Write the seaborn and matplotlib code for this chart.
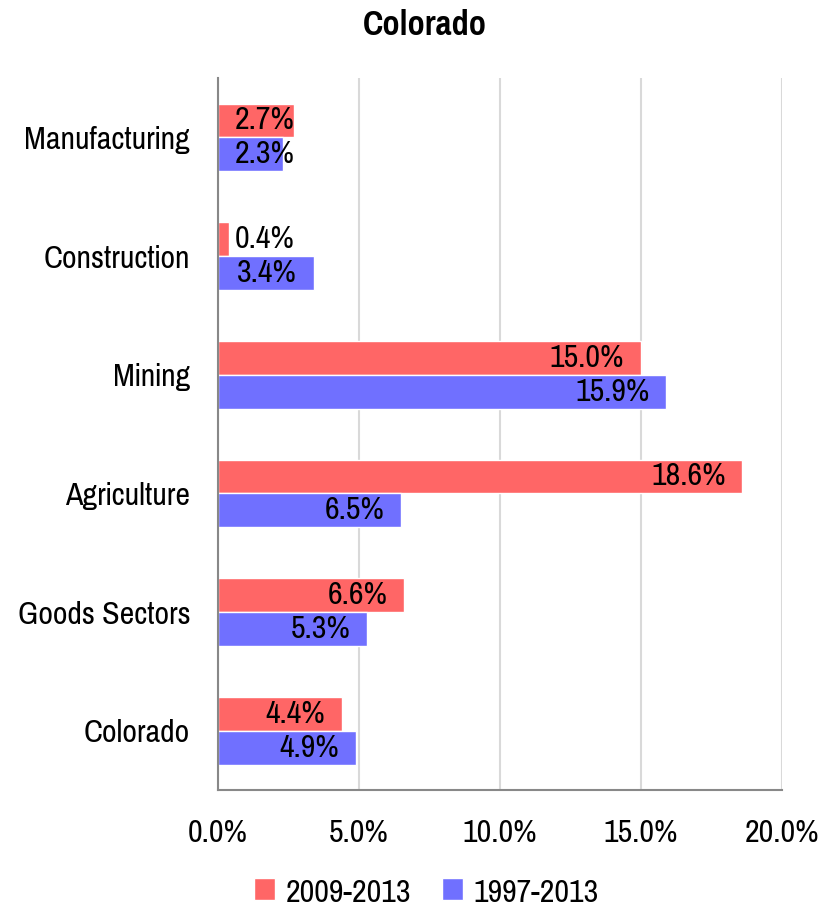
import matplotlib
matplotlib.use("Agg")
import matplotlib.pyplot as plt
import seaborn as sns
import pandas as pd
import numpy as np

sectors = ["Manufacturing", "Construction", "Mining", "Agriculture", "Goods Sectors", "Colorado"]
period_recent = [2.7, 0.4, 15.0, 18.6, 6.6, 4.4]
period_long = [2.3, 3.4, 15.9, 6.5, 5.3, 4.9]
series_names = ["2009-2013", "1997-2013"]
x_ticks = [0, 5, 10, 15, 20]

df = pd.DataFrame({
    "sector": sectors * 2,
    "value": period_recent + period_long,
    "period": [series_names[0]] * len(sectors) + [series_names[1]] * len(sectors),
})

sns.set_style("white")
plt.rcParams["font.family"] = ["Pragati Narrow", "Roboto Condensed", "DejaVu Sans"]
plt.rcParams["text.color"] = "black"
plt.rcParams["xtick.color"] = "black"
plt.rcParams["ytick.color"] = "black"
fs = 25

fig = plt.figure(figsize=(8.34, 9.06), dpi=100)
ax = fig.add_axes([0.2614, 0.128, 0.6762, 0.7859])

sns.barplot(data=df, y="sector", x="value", hue="period", order=sectors,
            hue_order=series_names, palette=["#FF6666", "#7070FF"],
            orient="h", width=0.57, ax=ax, saturation=1, legend=True)

ax.set_xlim(0, 20)
ax.set_ylim(len(sectors) - 0.5, -0.5)
ax.set_xticks(x_ticks)
ax.set_xticklabels([f"{t:.1f}%" for t in x_ticks], fontsize=fs)
ax.set_yticks(np.arange(-0.5, len(sectors), 1.0))
ax.set_yticklabels([])
ax.set_yticks(np.arange(len(sectors)), minor=True)
ax.set_yticklabels(sectors, minor=True, fontsize=fs)
ax.tick_params(axis="y", which="minor", length=0, pad=20)
ax.tick_params(axis="y", which="major", length=9, color="#888888", width=1.5)
ax.tick_params(axis="x", length=9, color="#888888", width=1.5, pad=12)
ax.set_xlabel("")
ax.set_ylabel("")
ax.grid(axis="x", color="#d9d9d9", linewidth=1.5)
ax.set_axisbelow(True)
for s in ["top", "right"]:
    ax.spines[s].set_visible(False)
for s in ["left", "bottom"]:
    ax.spines[s].set_color("#888888")
    ax.spines[s].set_linewidth(1.5)

# Excel-style "inside end" labels, pushed right of the axis when the bar is short
pad = 0.6
min_right = 2.7
for container in ax.containers:
    for patch in container:
        v = patch.get_width()
        yc = patch.get_y() + patch.get_height() / 2
        if v - pad < min_right:
            ax.text(pad, yc, f"{v:.1f}%", ha="left", va="center", fontsize=fs)
        else:
            ax.text(v - pad, yc, f"{v:.1f}%", ha="right", va="center", fontsize=fs)

ax.legend(loc="upper center", bbox_to_anchor=(0.37, -0.08), ncol=2, frameon=False,
          fontsize=fs, handlelength=0.6, handleheight=0.6, handletextpad=0.3,
          columnspacing=0.9)

fig.suptitle("Colorado", x=0.51, y=0.99, fontsize=27, fontweight="bold")

fig.savefig("out.png", dpi=100)
